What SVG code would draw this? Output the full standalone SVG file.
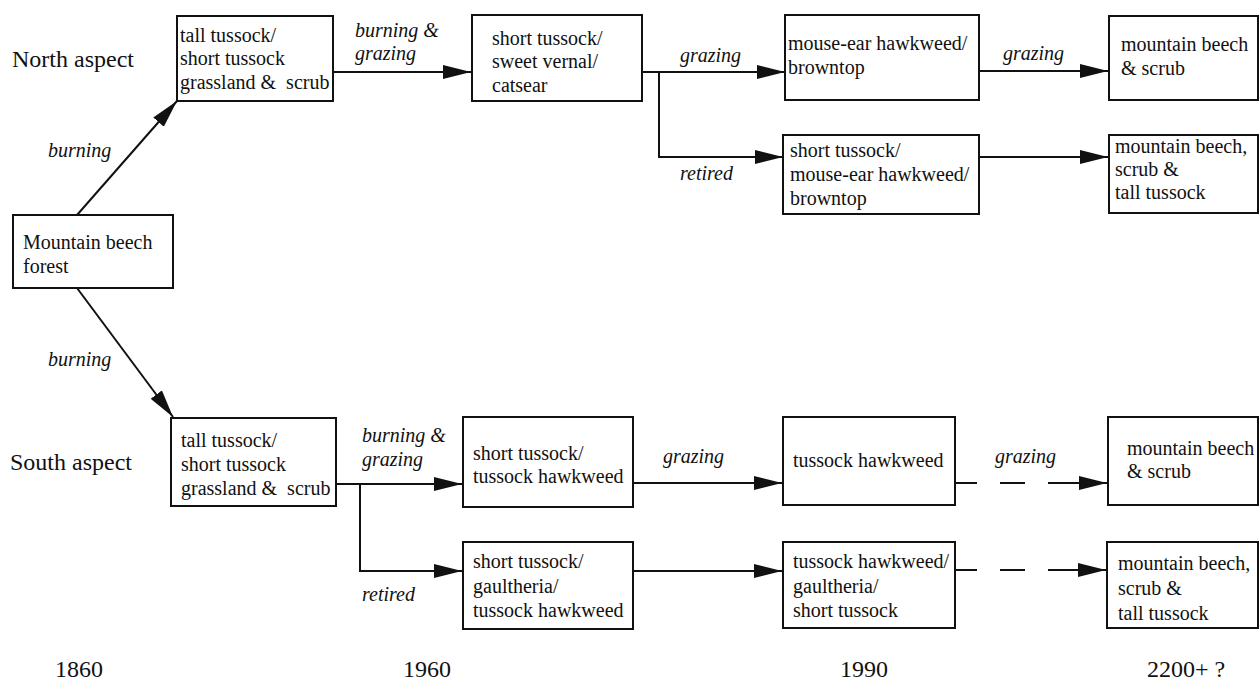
<svg xmlns="http://www.w3.org/2000/svg" width="1260" height="680" viewBox="0 0 1260 680">
<style>
.box{fill:#fff;stroke:#111;stroke-width:2}
text{font-family:'Liberation Serif','DejaVu Serif','Times New Roman',serif;fill:#111}
.t{font-size:20px}
.lbl{font-size:20px;font-style:italic}
.big{font-size:24px}
.yr{font-size:24px}
.c{fill:none;stroke:#111;stroke-width:2}
.d{stroke-dasharray:25 23 25 23 200}
</style>
<defs>
<marker id="ah" markerUnits="userSpaceOnUse" markerWidth="30" markerHeight="16" refX="28" refY="7" orient="auto">
<path d="M0,0 L28,7 L0,14 z" fill="#111"/>
</marker>
</defs>
<rect width="1260" height="680" fill="#fff"/>
<g id="labels">
<text class="big" x="12" y="67">North aspect</text>
<text class="big" x="10" y="470">South aspect</text>
<text class="yr" x="55" y="677">1860</text>
<text class="yr" x="403" y="677">1960</text>
<text class="yr" x="840" y="677">1990</text>
<text class="yr" x="1147" y="677">2200+ ?</text>
</g>
<g id="connectors">
<line class="c" x1="77" y1="215" x2="177" y2="101" marker-end="url(#ah)"/>
<line class="c" x1="77" y1="288" x2="173" y2="417" marker-end="url(#ah)"/>
<line class="c" x1="333" y1="72" x2="471" y2="72" marker-end="url(#ah)"/>
<line class="c" x1="642" y1="72" x2="785" y2="72" marker-end="url(#ah)"/>
<polyline class="c" points="659,72 659,157 783,157" marker-end="url(#ah)"/>
<line class="c" x1="979" y1="71" x2="1108" y2="71" marker-end="url(#ah)"/>
<line class="c" x1="979" y1="157" x2="1108" y2="157" marker-end="url(#ah)"/>
<line class="c" x1="336" y1="484" x2="462" y2="484" marker-end="url(#ah)"/>
<polyline class="c" points="360,484 360,571 462,571" marker-end="url(#ah)"/>
<line class="c" x1="633" y1="483" x2="782" y2="483" marker-end="url(#ah)"/>
<line class="c" x1="633" y1="571" x2="782" y2="571" marker-end="url(#ah)"/>
<line class="c d" x1="952" y1="483" x2="1107" y2="483" marker-end="url(#ah)"/>
<line class="c d" x1="952" y1="570" x2="1106" y2="570" marker-end="url(#ah)"/>
<text class="lbl" x="48" y="157">burning</text>
<text class="lbl" x="48" y="366">burning</text>
<text class="lbl" x="355" y="37">burning &amp;</text>
<text class="lbl" x="355" y="60">grazing</text>
<text class="lbl" x="680" y="62">grazing</text>
<text class="lbl" x="680" y="180">retired</text>
<text class="lbl" x="1003" y="60">grazing</text>
<text class="lbl" x="362" y="442">burning &amp;</text>
<text class="lbl" x="362" y="466">grazing</text>
<text class="lbl" x="362" y="601">retired</text>
<text class="lbl" x="663" y="463">grazing</text>
<text class="lbl" x="995" y="463">grazing</text>
</g>
<g id="n-forest">
<rect class="box" x="13" y="215" width="160" height="73"/>
<text class="t" x="23" y="249">Mountain beech</text>
<text class="t" x="23" y="273">forest</text>
</g>
<g id="n-1860">
<rect class="box" x="177" y="16" width="156" height="85"/>
<text class="t" x="180" y="42">tall tussock/</text>
<text class="t" x="180" y="65">short tussock</text>
<text class="t" x="180" y="89" xml:space="preserve">grassland &amp;  scrub</text>
</g>
<g id="n-1960">
<rect class="box" x="472" y="15" width="170" height="86"/>
<text class="t" x="492" y="45">short tussock/</text>
<text class="t" x="492" y="68">sweet vernal/</text>
<text class="t" x="492" y="92">catsear</text>
</g>
<g id="n-1990-grazed">
<rect class="box" x="785" y="15" width="194" height="85"/>
<text class="t" x="788" y="50">mouse-ear hawkweed/</text>
<text class="t" x="788" y="74">browntop</text>
</g>
<g id="n-2200-grazed">
<rect class="box" x="1109" y="16" width="149" height="84"/>
<text class="t" x="1121" y="51">mountain beech</text>
<text class="t" x="1121" y="75">&amp; scrub</text>
</g>
<g id="n-1990-retired">
<rect class="box" x="783" y="135" width="196" height="79"/>
<text class="t" x="790" y="157">short tussock/</text>
<text class="t" x="790" y="181">mouse-ear hawkweed/</text>
<text class="t" x="790" y="205">browntop</text>
</g>
<g id="n-2200-retired">
<rect class="box" x="1109" y="135" width="149" height="78"/>
<text class="t" x="1115" y="153">mountain beech,</text>
<text class="t" x="1115" y="176">scrub &amp;</text>
<text class="t" x="1115" y="199">tall tussock</text>
</g>
<g id="s-1860">
<rect class="box" x="171" y="418" width="165" height="88"/>
<text class="t" x="181" y="447">tall tussock/</text>
<text class="t" x="181" y="471">short tussock</text>
<text class="t" x="181" y="495" xml:space="preserve">grassland &amp;  scrub</text>
</g>
<g id="s-1960-grazed">
<rect class="box" x="463" y="417" width="170" height="90"/>
<text class="t" x="473" y="460">short tussock/</text>
<text class="t" x="473" y="483">tussock hawkweed</text>
</g>
<g id="s-1990-grazed">
<rect class="box" x="783" y="417" width="172" height="88"/>
<text class="t" x="793" y="467">tussock hawkweed</text>
</g>
<g id="s-2200-grazed">
<rect class="box" x="1108" y="417" width="150" height="88"/>
<text class="t" x="1127" y="455">mountain beech</text>
<text class="t" x="1127" y="478">&amp; scrub</text>
</g>
<g id="s-1960-retired">
<rect class="box" x="463" y="542" width="170" height="87"/>
<text class="t" x="473" y="568">short tussock/</text>
<text class="t" x="473" y="593">gaultheria/</text>
<text class="t" x="473" y="617">tussock hawkweed</text>
</g>
<g id="s-1990-retired">
<rect class="box" x="783" y="542" width="172" height="86"/>
<text class="t" x="793" y="568">tussock hawkweed/</text>
<text class="t" x="793" y="593">gaultheria/</text>
<text class="t" x="793" y="617">short tussock</text>
</g>
<g id="s-2200-retired">
<rect class="box" x="1107" y="542" width="151" height="86"/>
<text class="t" x="1118" y="570">mountain beech,</text>
<text class="t" x="1118" y="595">scrub &amp;</text>
<text class="t" x="1118" y="620">tall tussock</text>
</g>
</svg>
